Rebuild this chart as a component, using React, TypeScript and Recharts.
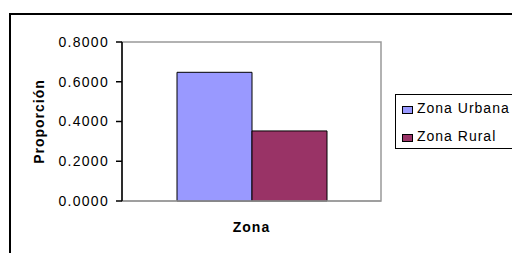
import { Bar, BarChart, ReferenceArea, XAxis, YAxis } from 'recharts';

const categories = ['Zona'];
const seriesKeys = ['urbana', 'rural'];
const seriesNames = ['Zona Urbana', 'Zona Rural'];
const seriesColors = ['#9999ff', '#993366'];
const urbanaValues = [0.6475];
const ruralValues = [0.3525];
const yTicks = [0, 0.2, 0.4, 0.6, 0.8];

const data = categories.map((zona, i) => ({
  zona,
  urbana: urbanaValues[i],
  rural: ruralValues[i]
}));

const font = '"Liberation Sans", Arial, sans-serif';

export default function App() {
  return (
    <div
      style={{
        position: 'absolute',
        left: 0,
        top: 0,
        width: 512,
        height: 253,
        overflow: 'hidden',
        background: '#fff',
        fontFamily: font
      }}
    >
      <div
        style={{
          position: 'absolute',
          left: 9,
          top: 13,
          width: 600,
          height: 300,
          border: '2px solid #000'
        }}
      />
      <BarChart
        width={512}
        height={253}
        data={data}
        margin={{ top: 42, right: 131, bottom: 0, left: 0 }}
        barCategoryGap={55}
        barGap={0}
        style={{ position: 'absolute', left: 0, top: 0 }}
      >
        <ReferenceArea y1={0} y2={0.8} fill="none" stroke="#999" strokeWidth={1.5} />
        <XAxis
          dataKey="zona"
          tick={false}
          tickLine={false}
          axisLine={{ stroke: '#999', strokeWidth: 1.5 }}
          height={52}
          label={{
            value: 'Zona',
            position: 'insideTop',
            offset: 21,
            fill: '#000',
            fontSize: 14,
            fontWeight: 'bold',
            fontFamily: font,
            letterSpacing: 1
          }}
        />
        <YAxis
          width={122}
          domain={[0, 0.8]}
          ticks={yTicks}
          tickFormatter={(v: number) => v.toFixed(4)}
          axisLine={{ stroke: '#000', strokeWidth: 1.5 }}
          tickLine={{ stroke: '#000', strokeWidth: 1.5 }}
          tickSize={6}
          tickMargin={7}
          tick={{ fill: '#000', fontSize: 14, fontFamily: font, letterSpacing: 1.3 }}
          label={{
            value: 'Proporción',
            angle: -90,
            position: 'center',
            dx: -22,
            fill: '#000',
            fontSize: 14,
            fontWeight: 'bold',
            fontFamily: font,
            letterSpacing: 1
          }}
        />
        {seriesKeys.map((key, i) => (
          <Bar
            key={key}
            dataKey={key}
            name={seriesNames[i]}
            fill={seriesColors[i]}
            stroke="#000"
            strokeWidth={1}
            isAnimationActive={false}
          />
        ))}
      </BarChart>
      <div
        style={{
          position: 'absolute',
          left: 395,
          top: 94,
          width: 130,
          height: 55,
          border: '1px solid #000',
          boxSizing: 'border-box',
          background: '#fff',
          fontSize: 14,
          letterSpacing: 1,
          color: '#000'
        }}
      >
        {seriesNames.map((name, i) => (
          <div key={name}>
            <div
              style={{
                position: 'absolute',
                left: 6,
                top: 11 + i * 28,
                width: 9,
                height: 6,
                background: seriesColors[i],
                border: '1px solid #000'
              }}
            />
            <div
              style={{
                position: 'absolute',
                left: 21,
                top: 5 + i * 28,
                lineHeight: '16px',
                whiteSpace: 'nowrap'
              }}
            >
              {name}
            </div>
          </div>
        ))}
      </div>
    </div>
  );
}
